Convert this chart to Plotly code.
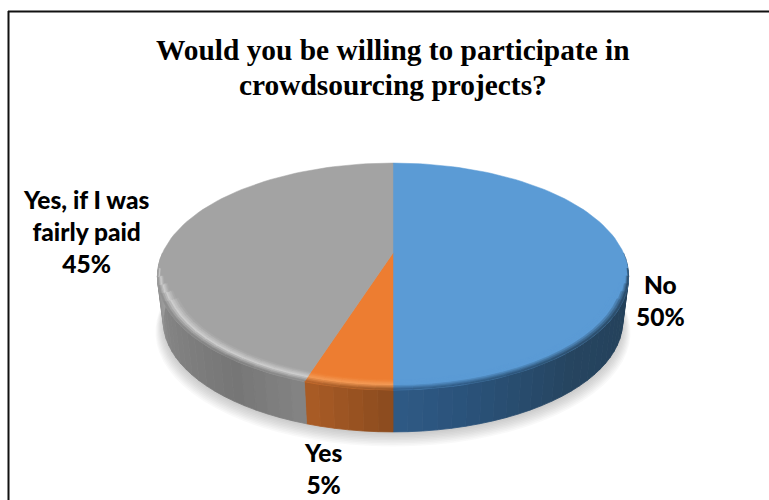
import math
import plotly.graph_objects as go

# Survey results
categories = ["No", "Yes", "Yes, if I was<br>fairly paid"]
shares = [50, 5, 45]
title_lines = ["Would you be willing to participate in", "crowdsourcing projects?"]

# Slice finishes: top face, rim highlight, wall colour stops (angle in degrees, hex)
top_colors = ["#5b9bd5", "#ed7d31", "#a3a3a3"]
rim_colors = ["#5b9bd5", "#f49a55", "#cdcdcd"]
wall_stops = [
    [(90, "#2b4a66"), (105, "#24405a"), (140, "#264560"), (165, "#2a527a"), (180, "#2f5a85")],
    [(180, "#8a4b1e"), (198, "#ab5c26")],
    [(198, "#848484"), (215, "#767676"), (245, "#858585"), (270, "#a2a2a2")],
]
label_anchor = [(660, 300), (323, 468.5), (86, 231)]
title_anchor = [(393, 50), (393, 85)]

# Projection of the tilted disc onto the page, in pixels
CX, CY = 393, 253
RADIUS = 230.5
HEIGHT = 108.6
PERSPECTIVE = 0.207
WALL_DROP = 45.4
WALL_SCALE = 0.975
RIM_WIDTH = 0.06


def project(theta_deg, r=1.0, drop=0.0, scale=1.0):
    t = math.radians(theta_deg)
    u, v = r * math.sin(t), r * math.cos(t)
    d = 1 + PERSPECTIVE * v
    return CX + scale * RADIUS * u / d, CY + drop - scale * HEIGHT * v / d


def to_rgb(c):
    return tuple(int(c[i:i + 2], 16) for i in (1, 3, 5))


def mix(a, b, t):
    ca, cb = to_rgb(a), to_rgb(b)
    return "#%02x%02x%02x" % tuple(round(x + (y - x) * t) for x, y in zip(ca, cb))


def wall_color(stops, a):
    if a <= stops[0][0]:
        return stops[0][1]
    for (a0, c0), (a1, c1) in zip(stops, stops[1:]):
        if a <= a1:
            return mix(c0, c1, (a - a0) / (a1 - a0))
    return stops[-1][1]


def angle_steps(start, end, step):
    n = max(1, math.ceil((end - start) / step))
    return [start + (end - start) * i / n for i in range(n + 1)]


fig = go.Figure()


def polygon(xs, ys, color, seam=0.8):
    fig.add_trace(go.Scatter(
        x=xs + xs[:1], y=ys + ys[:1], mode="lines", fill="toself", fillcolor=color,
        line=dict(color=color, width=seam), hoverinfo="skip", showlegend=False,
    ))


# Soft drop shadow beneath the disc
for i in range(9):
    pts = [project(a, 1.0, WALL_DROP + 10 - i, 1.008 - i * 0.004) for a in range(0, 361, 4)]
    polygon([p[0] for p in pts], [p[1] for p in pts], "rgba(90,90,90,0.035)", seam=0)

# Slice boundaries in degrees, clockwise from twelve o'clock
total = sum(shares)
edges = [0.0]
for s in shares:
    edges.append(edges[-1] + 360.0 * s / total)

# Outer wall, only the part facing the viewer
for i in range(len(shares)):
    a0, a1 = max(edges[i], 90), min(edges[i + 1], 270)
    if a1 <= a0:
        continue
    steps = angle_steps(a0, a1, 3)
    for p, q in zip(steps, steps[1:]):
        c = wall_color(wall_stops[i], (p + q) / 2)
        pts = [project(p), project(q), project(q, 1, WALL_DROP, WALL_SCALE), project(p, 1, WALL_DROP, WALL_SCALE)]
        polygon([x for x, _ in pts], [y for _, y in pts], c)

# Flat top faces
for i in range(len(shares)):
    pts = [project(a) for a in angle_steps(edges[i], edges[i + 1], 2)]
    pts.append((CX, CY))
    polygon([x for x, _ in pts], [y for _, y in pts], top_colors[i], seam=0.5)


def rim_strength(a):
    # Rounded edge shows along the front, fades out toward the back
    return max(0.0, min(1.0, (math.cos(math.radians(a - 180)) - 0.12) / 0.3))


# Rounded rim between top face and wall
BANDS = 7
for i in range(len(shares)):
    a0, a1 = max(edges[i], 90), min(edges[i + 1], 270)
    if a1 <= a0:
        continue
    steps = angle_steps(a0, a1, 4)
    for p, q in zip(steps, steps[1:]):
        mid = (p + q) / 2
        w = rim_strength(mid)
        if w <= 0:
            continue
        wall = wall_color(wall_stops[i], mid)
        for b in range(BANDS):
            t0, t1 = b / BANDS, (b + 1) / BANDS
            t = (t0 + t1) / 2
            if t < 0.5:
                col = mix(top_colors[i], rim_colors[i], t / 0.5)
            else:
                col = mix(rim_colors[i], wall, (t - 0.5) / 0.5)
            r0 = 1 - RIM_WIDTH * w * (1 - t0)
            r1 = 1 - RIM_WIDTH * w * (1 - t1)
            pts = [project(p, r0), project(q, r0), project(q, r1), project(p, r1)]
            polygon([x for x, _ in pts], [y for _, y in pts], col, seam=0.6)

# Frame lines on the left and top of the chart area
fig.add_shape(type="line", x0=8.5, x1=8.5, y0=11, y1=500, line=dict(color="#111111", width=2))
fig.add_shape(type="line", x0=8, x1=769, y0=11.5, y1=11.5, line=dict(color="#111111", width=2))

# Category labels
for name, share, (x, y) in zip(categories, shares, label_anchor):
    fig.add_annotation(
        x=x, y=y, text=f"{name}<br>{share}%", showarrow=False, align="center",
        font=dict(family="Lato", size=24.5, color="#000000", weight=900),
    )

for line, (x, y) in zip(title_lines, title_anchor):
    fig.add_annotation(
        x=x, y=y, text=line, showarrow=False, align="center",
        font=dict(family="Liberation Serif", size=29.4, color="#000000", weight="bold"),
    )

fig.update_layout(
    width=769, height=500, margin=dict(l=0, r=0, t=0, b=0),
    paper_bgcolor="white", plot_bgcolor="white", showlegend=False,
    xaxis=dict(range=[0, 769], visible=False, fixedrange=True),
    yaxis=dict(range=[500, 0], visible=False, fixedrange=True),
)

fig.write_html("out.html", config={"displayModeBar": False})
